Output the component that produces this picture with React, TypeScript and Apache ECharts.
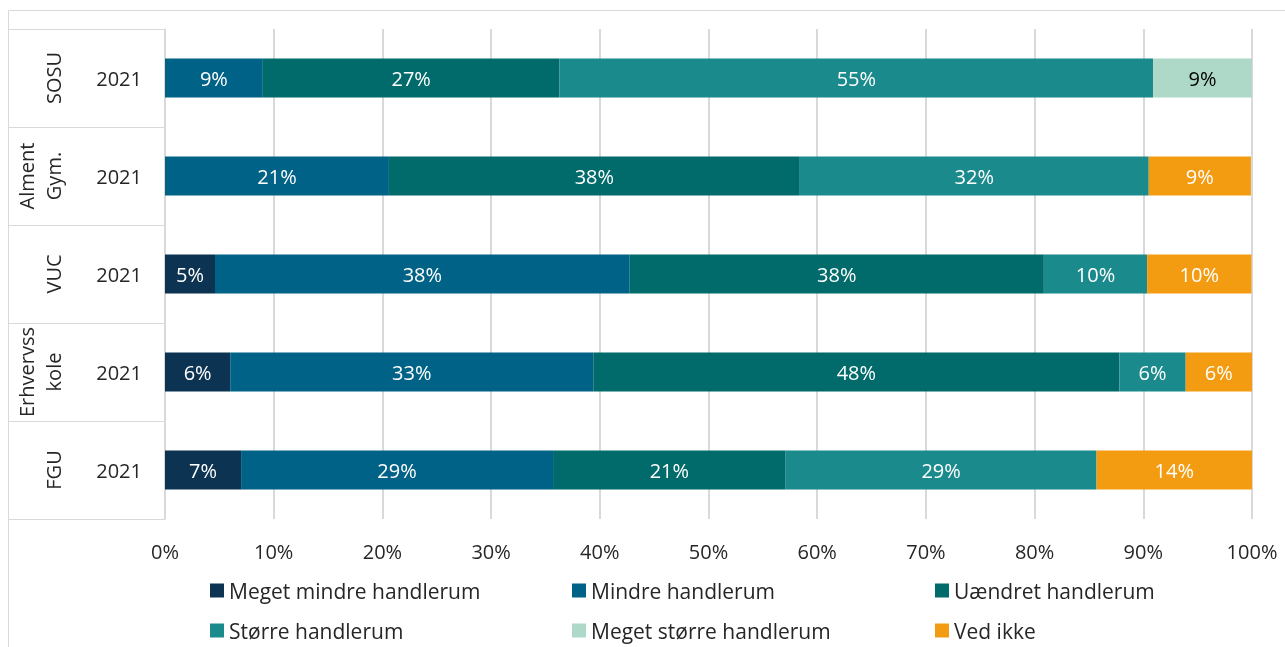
import React, { useEffect, useRef } from "react";
import * as echarts from "echarts";

const groups = ["SOSU", "Alment\nGym.", "VUC", "Erhvervss\nkole", "FGU"];
const years = ["2021", "2021", "2021", "2021", "2021"];
const seriesNames = [
  "Meget mindre handlerum",
  "Mindre handlerum",
  "Uændret handlerum",
  "Større handlerum",
  "Meget større handlerum",
  "Ved ikke",
];
const megetMindre = [null, null, 4.6, 6.0, 7.0];
const mindre = [9.0, 20.6, 38.15, 33.4, 28.7];
const uaendret = [27.3, 37.8, 38.1, 48.4, 21.4];
const stoerre = [54.6, 32.1, 9.5, 6.1, 28.6];
const megetStoerre = [9.1, null, null, null, null];
const vedIkke = [null, 9.4, 9.6, 6.1, 14.3];
const xTicks = [0, 10, 20, 30, 40, 50, 60, 70, 80, 90, 100];

const colors = ["#0C3352", "#006286", "#016A6A", "#1B8A8C", "#AED9C8", "#F39C12"];
const labelColors = ["#ffffff", "#ffffff", "#ffffff", "#ffffff", "#000000", "#ffffff"];

export default function App() {
  const ref = useRef<HTMLDivElement>(null);
  useEffect(() => {
    const chart = echarts.init(ref.current!, null, { renderer: "svg" });
    const font = "'Open Sans', sans-serif";
    const values = [megetMindre, mindre, uaendret, stoerre, megetStoerre, vedIkke];
    const legendPos = [
      [210, 580],
      [572, 580],
      [935, 580],
      [210, 620],
      [572, 620],
      [935, 620],
    ];
    chart.setOption({
      animation: false,
      textStyle: { fontFamily: font },
      grid: { left: 165, right: 33, top: 29, bottom: 128, outerBoundsMode: "none" },
      xAxis: {
        type: "value",
        min: xTicks[0],
        max: xTicks[xTicks.length - 1],
        interval: xTicks[1] - xTicks[0],
        axisLabel: { formatter: "{value}%", fontSize: 20, color: "#262626", margin: 22 },
        splitLine: { show: true, lineStyle: { color: "#d9d9d9", width: 2 } },
        axisLine: { show: false },
        axisTick: { show: false },
      },
      yAxis: [
        {
          type: "category",
          inverse: true,
          data: groups,
          axisLine: { show: true, lineStyle: { color: "#d9d9d9", width: 1 } },
          axisTick: { show: true, length: 157, lineStyle: { color: "#d9d9d9", width: 1 } },
          axisLabel: {
            interval: 0,
            formatter: (_v: string, i: number) => years[i],
            fontSize: 20,
            color: "#262626",
            margin: 23,
          },
        },
        {
          type: "category",
          inverse: true,
          data: groups,
          position: "left",
          offset: 98,
          axisLine: { show: false },
          axisTick: { show: false },
          axisLabel: {
            interval: 0,
            rotate: 90,
            fontSize: 20,
            lineHeight: 27,
            color: "#262626",
            margin: 0,
          },
        },
      ],
      legend: seriesNames.map((n, i) => ({
        data: [n],
        left: legendPos[i][0],
        top: legendPos[i][1],
        padding: 0,
        itemWidth: 14,
        itemHeight: 14,
        icon: "rect",
        selectedMode: false,
        textStyle: { fontSize: 21, color: "#262626", fontFamily: font },
      })),
      series: seriesNames.map((n, i) => ({
        name: n,
        type: "bar",
        stack: "total",
        yAxisIndex: 0,
        barWidth: "40%",
        data: values[i],
        itemStyle: { color: colors[i] },
        label: {
          show: true,
          position: "inside",
          fontSize: 20,
          color: labelColors[i],
          fontFamily: font,
          formatter: (p: any) => (p.value == null ? "" : Math.round(p.value) + "%"),
        },
      })),
      graphic: [
        {
          type: "rect",
          silent: true,
          shape: { x: 8.5, y: 10.5, width: 1300, height: 700 },
          style: { fill: "none", stroke: "#d9d9d9", lineWidth: 1 },
        },
      ],
    });
    return () => chart.dispose();
  }, []);
  return (
    <div
      ref={ref}
      style={{ position: "fixed", left: 0, top: 0, width: 1285, height: 647 }}
    />
  );
}
